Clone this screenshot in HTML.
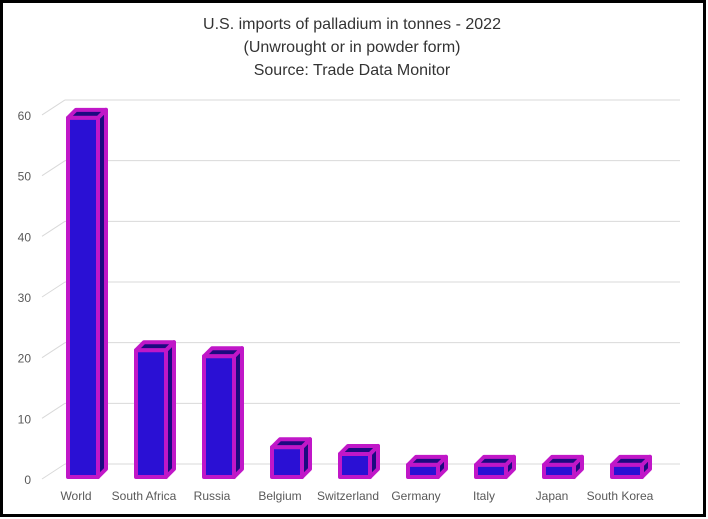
<!DOCTYPE html>
<html><head><meta charset="utf-8"><style>
html,body{margin:0;padding:0;background:#fff}
svg{display:block;font-family:"Liberation Sans",sans-serif}
</style></head><body>
<svg id="chart" width="708" height="519">
<rect x="1.5" y="1.5" width="703" height="514" fill="#fff" stroke="#000" stroke-width="3"/>
<g font-size="16" fill="#333" text-anchor="middle">
<text x="352" y="29">U.S. imports of palladium in tonnes - 2022</text>
<text x="352" y="52">(Unwrought or in powder form)</text>
<text x="352" y="75">Source: Trade Data Monitor</text>
</g>
<g id="grid"></g><g id="bars"></g><g id="labels"></g>
</svg>
<script>
const categories=["World","South Africa","Russia","Belgium","Switzerland","Germany","Italy","Japan","South Korea"];
const values=[59.2,20.9,19.9,4.9,3.8,2,2,2,2];
const ticks=[0,10,20,30,40,50,60];
const NS="http://www.w3.org/2000/svg";
const backY=v=>464-v*6.067, frontY=v=>477-v*6.067;
const cx=i=>83+68*i;
function mk(t,a,p){const e=document.createElementNS(NS,t);for(const k in a)e.setAttribute(k,a[k]);p.appendChild(e);return e;}
const grid=document.getElementById("grid"),bars=document.getElementById("bars"),labels=document.getElementById("labels");
ticks.forEach(t=>{
 const g=mk("line",{x1:65,x2:680,y1:backY(t),y2:backY(t),stroke:"#d9d9d9","stroke-width":1},grid);
 
 
 const d=mk("line",{x1:42,x2:65,y1:backY(t)+15,y2:backY(t),stroke:"#d9d9d9","stroke-width":1},grid);
 
 
 const tx=mk("text",{x:31,y:backY(t)+20,"font-size":12,fill:"#595959","text-anchor":"end"},labels);
 tx.textContent=t;
 
 
});
const dx=8,dy=8,w=30;
values.forEach((v,i)=>{
 const x0=cx(i)-w/2,x1=x0+w,yb=frontY(0),yt=frontY(v);
 const g=mk("g",{stroke:"#c017c8","stroke-width":4,"stroke-linejoin":"round"},bars);
 
 
 mk("polygon",{points:`${x1},${yt} ${x1+dx},${yt-dy} ${x1+dx},${yb-dy} ${x1},${yb}`,fill:"#1c0a80"},g);
 mk("polygon",{points:`${x0},${yt} ${x0+dx},${yt-dy} ${x1+dx},${yt-dy} ${x1},${yt}`,fill:"#1c0a80"},g);
 mk("rect",{x:x0,y:yt,width:w,height:yb-yt,fill:"#2a10d4"},g);
 const tx=mk("text",{x:cx(i)-7,y:500,"font-size":12,fill:"#595959","text-anchor":"middle"},labels);
 tx.textContent=categories[i];
 
 
});
</script>
</body></html>
